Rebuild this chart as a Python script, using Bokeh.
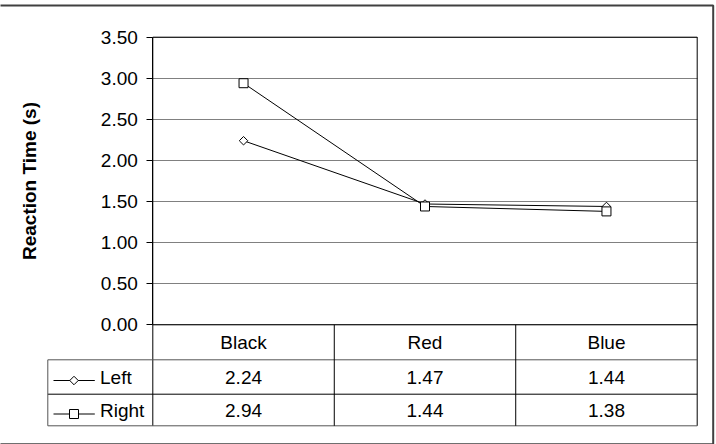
import numpy as np
from bokeh.plotting import figure
from bokeh.models import (Range1d, LinearAxis, FixedTicker, PrintfTickFormatter,
                          Grid, ColumnDataSource)
from bokeh.core.properties import value
from bokeh.embed import file_html
from bokeh.resources import INLINE

# ---------------- data ----------------
categories = ["Black", "Red", "Blue"]
left_rt = [2.24, 1.47, 1.44]
right_rt = [2.94, 1.44, 1.38]
series_names = ["Left", "Right"]
y_ticks = [0.0, 0.5, 1.0, 1.5, 2.0, 2.5, 3.0, 3.5]
y_label = "Reaction Time (s)"

# ---------------- layout (pixels) ----------------
W, H = 716, 444
FONT = "Liberation Sans"
FS = "19px"
PX_L, PX_R = 152.3, 696.7          # plot area left / right
PY_TOP, PY_ZERO = 36.7, 324.3      # y = max / y = 0
ROW_Y = [324.3, 359.3, 393.7, 425.3]  # table row boundaries
LEG_L = 47.3                       # legend column left edge
YMAX = y_ticks[-1]
ncat = len(categories)

sx_per = (PX_R - PX_L) / ncat
sy_per = (PY_ZERO - PY_TOP) / YMAX


def dx(px):
    return (px - PX_L) / sx_per


def dy(py):
    return (PY_ZERO - py) / sy_per


x_start, x_end = dx(0), dx(W)
y_start, y_end = dy(H), dy(0)

p = figure(width=W, height=H, x_range=Range1d(x_start, x_end),
           y_range=Range1d(y_start, y_end), x_axis_type=None, y_axis_type=None,
           output_backend="svg", toolbar_location=None, min_border=0,
           min_border_left=0, min_border_right=0, min_border_top=0,
           min_border_bottom=0, outline_line_color=None,
           background_fill_color="white", border_fill_color="white")

# ---------------- y axis ----------------
yaxis = LinearAxis(fixed_location=0, bounds=(0, YMAX),
                   ticker=FixedTicker(ticks=y_ticks),
                   formatter=PrintfTickFormatter(format="%.2f"))
yaxis.axis_line_color = "black"
yaxis.major_tick_line_color = "black"
yaxis.major_tick_out = 6
yaxis.major_tick_in = 0
yaxis.minor_tick_line_color = None
yaxis.major_label_standoff = 9
yaxis.major_label_text_font = FONT
yaxis.major_label_text_font_size = FS
yaxis.major_label_text_color = "black"
p.add_layout(yaxis, "left")

# ---------------- grid ----------------
grid_done = False
try:
    g = Grid(dimension=1, ticker=FixedTicker(ticks=y_ticks),
             grid_line_color="#808080", grid_line_width=1)
    g.cross_bounds = (0, ncat)
    p.add_layout(g)
    grid_done = True
except Exception:
    grid_done = False
if not grid_done:
    p.segment(x0=[0] * len(y_ticks), x1=[ncat] * len(y_ticks), y0=y_ticks,
              y1=y_ticks, line_color="#808080", line_width=1)

# ---------------- outer border ----------------
p.quad(left=[x_start - 1], right=[dx(712.7)], top=[dy(5)], bottom=[dy(443.7)],
       fill_color=None, line_color="#404040", line_width=2)

# ---------------- plot area frame + table lines ----------------
tb = dy(ROW_Y[-1])
# plot area top, left, right
p.segment(x0=[0, 0, ncat], y0=[YMAX, YMAX, YMAX], x1=[ncat, 0, ncat], y1=[YMAX, tb, tb],
          line_color="black", line_width=1)
# zero line and inner rows
p.segment(x0=[0], y0=[0], x1=[ncat], y1=[0], line_color="black", line_width=1)
p.segment(x0=[dx(LEG_L)], y0=[dy(ROW_Y[2])], x1=[ncat], y1=[dy(ROW_Y[2])],
          line_color="black", line_width=1)
p.segment(x0=[dx(LEG_L), dx(LEG_L), dx(LEG_L)],
          y0=[dy(ROW_Y[1]), tb, dy(ROW_Y[1])],
          x1=[ncat, ncat, dx(LEG_L)], y1=[dy(ROW_Y[1]), tb, tb],
          line_color="#555555", line_width=1)
# column separators
sep = list(range(1, ncat))
p.segment(x0=sep, y0=[0] * len(sep), x1=sep, y1=[tb] * len(sep),
          line_color="black", line_width=1)

# ---------------- series ----------------
xs = [i + 0.5 for i in range(ncat)]
src = ColumnDataSource(dict(x=xs, left=left_rt, right=right_rt))
p.line("x", "left", source=src, line_color="black", line_width=1)
p.scatter("x", "left", source=src, marker="square", angle=np.pi / 4, size=6,
          fill_color="white", line_color="black", line_width=1)
p.line("x", "right", source=src, line_color="black", line_width=1)
p.scatter("x", "right", source=src, marker="square", size=9,
          fill_color="white", line_color="black", line_width=1)

# ---------------- table text ----------------
row_c = [(ROW_Y[i] + ROW_Y[i + 1]) / 2 for i in range(3)]
txt_kw = dict(text_font=value(FONT), text_font_size=FS, text_color="black",
              text_baseline="middle")
p.text(x=xs, y=[dy(row_c[0] + 0.5)] * ncat, text=categories, text_align="center", **txt_kw)
p.text(x=xs, y=[dy(row_c[1] + 0.7)] * ncat, text=[f"{v:.2f}" for v in left_rt],
       text_align="center", **txt_kw)
p.text(x=xs, y=[dy(row_c[2] + 0.7)] * ncat, text=[f"{v:.2f}" for v in right_rt],
       text_align="center", **txt_kw)

# legend keys in table
ly = [dy(row_c[1] + 3.5), dy(row_c[2] + 4.0)]
p.segment(x0=[dx(53)] * 2, x1=[dx(94.3)] * 2, y0=ly, y1=ly, line_color="black", line_width=1)
p.scatter(x=[dx(73.5)], y=[ly[0]], marker="square", angle=np.pi / 4, size=6,
          fill_color="white", line_color="black", line_width=1)
p.scatter(x=[dx(73.5)], y=[ly[1]], marker="square", size=9,
          fill_color="white", line_color="black", line_width=1)
p.text(x=[dx(99.5)] * 2, y=[dy(row_c[1] + 0.7), dy(row_c[2] + 0.7)], text=series_names,
       text_align="left", **txt_kw)

# y axis label
p.text(x=[dx(28.5)], y=[YMAX / 2], text=[y_label], angle=np.pi / 2,
       text_align="center", text_font_style="bold", **txt_kw)

open("out.html", "w").write(file_html(p, INLINE))
